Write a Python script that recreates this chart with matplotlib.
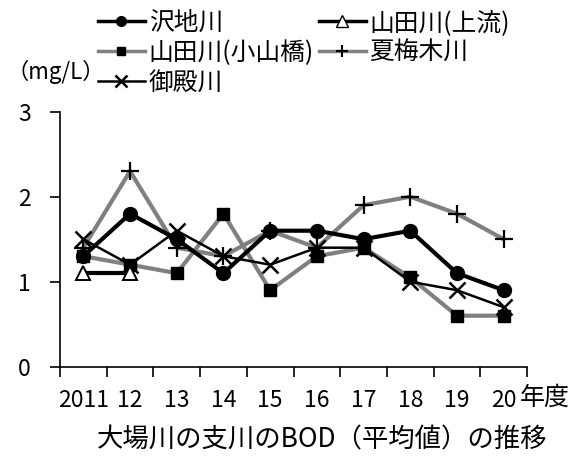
import matplotlib
matplotlib.use("Agg")
import matplotlib.pyplot as plt
from matplotlib.lines import Line2D
import numpy as np

plt.rcParams['font.family'] = ['Noto Sans CJK JP', 'DejaVu Sans']

years = ["2011", "12", "13", "14", "15", "16", "17", "18", "19", "20"]

sawachi = [1.3, 1.8, 1.5, 1.1, 1.6, 1.6, 1.5, 1.6, 1.1, 0.9]
yamada_upper = [1.1, 1.1]
yamada_koyama = [1.3, 1.2, 1.1, 1.8, 0.9, 1.3, 1.4, 1.05, 0.6, 0.6]
natsumegi = [1.4, 2.3, 1.4, 1.3, 1.6, 1.4, 1.9, 2.0, 1.8, 1.5]
goten = [1.5, 1.2, 1.6, 1.3, 1.2, 1.4, 1.4, 1.0, 0.9, 0.7]

GRAY = "#808080"

fig = plt.figure(figsize=(5.83, 4.57), dpi=100)
ax = fig.add_axes([60 / 583, 1 - 366.7 / 457, 467 / 583, 255 / 457])

x = np.arange(len(years))

ax.plot(x, yamada_koyama, color=GRAY, lw=3, marker="s", ms=9,
        mfc="black", mec="black", zorder=3)
ax.plot(x, natsumegi, color=GRAY, lw=3, marker="+", ms=13, mew=1.6,
        mec="black", zorder=3)
ax.plot(x[:len(yamada_upper)], yamada_upper, color="black", lw=3, marker="^",
        ms=10, mfc="white", mec="black", mew=1.4, zorder=4)
ax.plot(x, goten, color="black", lw=1.8, marker="x", ms=11, mew=1.8, zorder=5)
ax.plot(x, sawachi, color="black", lw=3, marker="o", ms=10, zorder=6)

ax.set_xlim(-0.5, len(years) - 0.5)
ax.set_ylim(0, 3)
ax.set_yticks([0, 1, 2, 3])
ax.tick_params(axis="y", direction="out", length=7, width=1.2, pad=14,
               labelsize=16.5)

ax.set_xticks(np.arange(-0.5, len(years), 1.0))
ax.set_xticklabels([])
ax.tick_params(axis="x", which="major", direction="out", length=7, width=1.2)
ax.set_xticks(x, minor=True)
ax.set_xticklabels(years, minor=True)
ax.tick_params(axis="x", which="minor", length=0, pad=16, labelsize=16.5)

for s in ["top", "right"]:
    ax.spines[s].set_visible(False)
for s in ["left", "bottom"]:
    ax.spines[s].set_linewidth(1.2)

handles = [
    Line2D([], [], color="black", lw=2.5, marker="o", ms=7),
    Line2D([], [], color=GRAY, lw=2.5, marker="s", ms=6, mfc="black", mec="black"),
    Line2D([], [], color="black", lw=1.8, marker="x", ms=9, mew=1.8),
    Line2D([], [], color="black", lw=2.5, marker="^", ms=8, mfc="white", mec="black"),
    Line2D([], [], color=GRAY, lw=2.5, marker="+", ms=9, mew=1.5, mec="black"),
]
labels = ["沢地川", "山田川(小山橋)", "御殿川", "山田川(上流)", "夏梅木川"]
fig.legend(handles, labels, ncol=2, loc="upper left",
           bbox_to_anchor=(88 / 583, 1 - 0 / 457), frameon=False,
           fontsize=17.8, handlelength=1.9, handletextpad=0.15,
           columnspacing=0.2, labelspacing=0.15, borderaxespad=0)

fig.text(6 / 583, 1 - 72 / 457, "（mg/L）", fontsize=16, ha="left", va="center")
fig.text(520 / 583, 1 - 398 / 457, "年度", fontsize=18, ha="left", va="center")
fig.text(322 / 583, 1 - 440 / 457, "大場川の支川のBOD（平均値）の推移",
         fontsize=19, ha="center", va="center")

fig.savefig("out.png", dpi=100)
